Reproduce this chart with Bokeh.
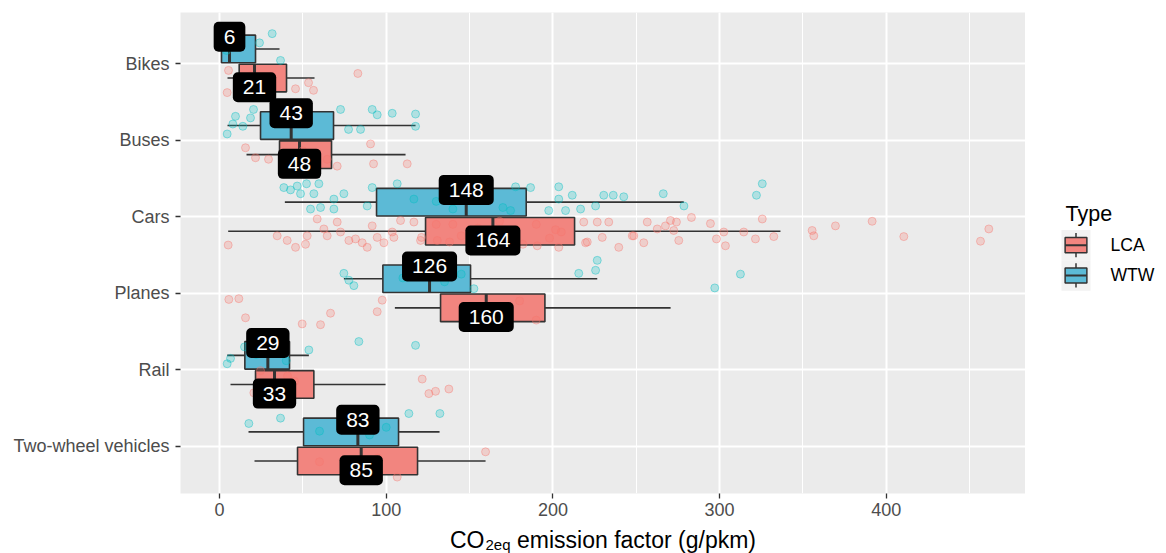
from bokeh.plotting import figure
from bokeh.models import Range1d, FixedTicker, SingleIntervalTicker, ColumnDataSource
from bokeh.layouts import row, column
from bokeh.embed import file_html
from bokeh.resources import INLINE
from bokeh.core.properties import value

# ---------------- data ----------------
categories = ["Bikes", "Buses", "Cars", "Planes", "Rail", "Two-wheel vehicles"]
types = ["LCA", "WTW"]

# box statistics (g/pkm): lower whisker, Q1, median, Q3, upper whisker
lca_low = [4.8, 16.2, 5.2, 105.2, 6.6, 21.0]
lca_q1 = [11.8, 36.0, 123.6, 132.6, 21.6, 46.8]
lca_med = [21, 48, 164, 160, 33, 85]
lca_q3 = [40.2, 67.2, 213.0, 195.2, 56.6, 118.8]
lca_high = [57.0, 111.6, 336.5, 270.6, 99.6, 159.6]

wtw_low = [1.2, 4.8, 39.2, 74.6, 4.6, 17.4]
wtw_q1 = [1.2, 24.6, 94.2, 98.0, 15.2, 50.4]
wtw_med = [6, 43, 148, 126, 29, 83]
wtw_q3 = [21.6, 68.4, 184.0, 150.6, 42.0, 107.4]
wtw_high = [36.0, 117.6, 278.5, 226.6, 53.6, 132.0]

lca_pt_cat = (["Bikes"] * 8 + ["Buses"] * 10 + ["Cars"] * 72 + ["Planes"] * 12
              + ["Rail"] * 11 + ["Two-wheel vehicles"] * 13)
lca_pt_val = [
    5.4, 4.6, 83, 45.6, 53.4, 56.4, 18.6, 27.6,
    15.6, 21.6, 29.4, 90.6, 92.4, 70.6, 112.6, 64.6, 50, 40,
    5.2, 34.6, 40.6, 45.6, 52.6, 51.6, 58.6, 62.6, 64.6, 70.6, 72.6, 77.6, 81.6, 85.6,
    88.6, 91.6, 94.6, 98.6, 103.6, 108.6, 116.6, 120.6, 130, 145, 155, 175, 190, 205,
    190.6, 203.5, 218.5, 219.6, 226.6, 229.6, 233.5, 239.5, 248.5, 254.5, 256.6, 262.6,
    267.5, 272.5, 274.1, 275.5, 283.1, 294.5, 298.1, 302.5, 303.5, 314.5, 321.5, 325.6,
    332.5, 355.5, 356.5, 369.5, 391.5, 410.5, 456.5, 461.5, 138, 168, 182, 198,
    104.6, 121.2, 130.6, 201.6, 220.6, 247.6, 270.5, 140, 150, 165, 180, 190,
    5.6, 11.6, 15.6, 97.6, 94.6, 66.6, 60.6, 49.6, 25, 35, 45,
    24.6, 20.6, 40.8, 40.2, 121.6, 125.6, 129.6, 137.6, 159.6, 106.6, 60, 80, 95,
]
lca_pt_jit = [
    -0.09, -0.38, -0.13, -0.33, -0.25, -0.35, -0.16, -0.25,
    -0.10, -0.23, -0.25, -0.05, -0.31, -0.34, -0.31, -0.25, -0.14, -0.21,
    -0.37, -0.25, -0.31, -0.40, -0.25, -0.36, -0.03, -0.16, -0.25, -0.07, -0.20, -0.31, -0.29, -0.34,
    -0.40, -0.12, -0.27, -0.34, -0.20, -0.05, -0.07, -0.31, -0.10, -0.25, -0.15, -0.30, -0.10, -0.20,
    -0.38, -0.40, -0.07, -0.34, -0.07, -0.27, -0.07, -0.40, -0.25, -0.34, -0.07, -0.16,
    -0.12, -0.18, -0.07, -0.31, -0.01, -0.09, -0.29, -0.20, -0.38, -0.20, -0.29, -0.03,
    -0.26, -0.18, -0.25, -0.12, -0.06, -0.26, -0.32, -0.16, -0.33, -0.06, -0.36, -0.28,
    -0.27, -0.27, -0.31, -0.17, -0.33, -0.25, -0.05, -0.10, -0.30, -0.20, -0.10, -0.35,
    -0.08, -0.07, -0.32, -0.09, -0.24, -0.26, -0.41, -0.40, -0.20, -0.30, -0.15,
    -0.01, -0.30, -0.08, -0.38, -0.12, -0.31, -0.28, -0.25, -0.07, -0.40, -0.20, -0.30, -0.15,
]

wtw_pt_cat = (["Bikes"] * 5 + ["Buses"] * 14 + ["Cars"] * 37 + ["Planes"] * 13
              + ["Rail"] * 9 + ["Two-wheel vehicles"] * 8)
wtw_pt_val = [
    31.6, 24, 36.6, 4.2, 12.6,
    4.6, 9.6, 18.6, 20.4, 72.6, 77.4, 84.6, 91.6, 94.6, 103.6, 117.6, 117.6, 14, 8,
    38.6, 42.6, 46.6, 52.2, 56.6, 59.6, 48.6, 54.6, 60.6, 68.6, 68.6, 74.6, 88.6, 91.6,
    106.6, 116.6, 177.6, 186.6, 203.5, 203.5, 197.5, 207.6, 211.6, 216.6, 225.6, 230.5,
    236.2, 242.5, 266.2, 278.6, 322.1, 325.6, 130, 160, 140, 170, 174.6,
    74.6, 77.6, 80.6, 152.6, 215.5, 225.6, 226.6, 312.5, 297.1, 110, 120, 135, 145,
    4.6, 6.6, 53.6, 83.6, 117.6, 15, 22, 35, 40,
    17.6, 36.6, 113.6, 132.2, 60, 75, 90, 100,
]
wtw_pt_jit = [
    0.39, 0.27, 0.04, 0.17, 0.23,
    0.08, 0.31, 0.29, 0.40, 0.40, 0.14, 0.14, 0.40, 0.33, 0.35, 0.34, 0.18, 0.18, 0.21,
    0.38, 0.35, 0.40, 0.43, 0.30, 0.43, 0.30, 0.10, 0.12, 0.23, 0.10, 0.30, 0.14, 0.38,
    0.43, 0.23, 0.39, 0.38, 0.39, 0.23, 0.08, 0.08, 0.28, 0.10, 0.14, 0.28,
    0.28, 0.26, 0.30, 0.14, 0.28, 0.43, 0.20, 0.30, 0.10, 0.12, 0.08,
    0.26, 0.17, 0.10, 0.06, 0.26, 0.30, 0.43, 0.25, 0.07, 0.20, 0.30, 0.15, 0.25,
    0.08, 0.15, 0.26, 0.37, 0.32, 0.30, 0.20, 0.25, 0.12,
    0.30, 0.37, 0.43, 0.43, 0.20, 0.30, 0.15, 0.25,
]

x_title_main = "CO"
x_title_sub = "2eq"
x_title_rest = "emission factor (g/pkm)"
legend_title = "Type"

# ---------------- styling ----------------
FONT = "Liberation Sans"
box_fill = {"LCA": "#F2857F", "WTW": "#5CBAD6"}
point_col = {"LCA": "#F8766D", "WTW": "#00BFC4"}
dodge = {"LCA": -0.19, "WTW": 0.19}
label_dy = {"LCA": -0.31, "WTW": 0.35}
half_h = 0.18
dark = "#333333"

stats = {
    "LCA": (lca_low, lca_q1, lca_med, lca_q3, lca_high),
    "WTW": (wtw_low, wtw_q1, wtw_med, wtw_q3, wtw_high),
}
points = {
    "LCA": (lca_pt_cat, lca_pt_val, lca_pt_jit),
    "WTW": (wtw_pt_cat, wtw_pt_val, wtw_pt_jit),
}
ncat = len(categories)
pos = {c: ncat - i for i, c in enumerate(categories)}

x_start, x_end = -23.4, 483.5
y_start, y_end = 0.386, 6.666
FRAME_L, FRAME_W = 180, 845
MAIN_H, TITLE_H = 524, 29
TOTAL_W = 1166

p = figure(width=FRAME_L + FRAME_W, height=MAIN_H, x_range=Range1d(x_start, x_end),
           y_range=Range1d(y_start, y_end), output_backend="svg",
           toolbar_location=None, title=None,
           min_border_left=FRAME_L, min_border_right=0, min_border_top=12, min_border_bottom=31)
p.background_fill_color = "#EBEBEB"
p.border_fill_color = "white"
p.outline_line_color = None

xt = SingleIntervalTicker(interval=100, num_minor_ticks=2)
yt = FixedTicker(ticks=list(range(1, ncat + 1)), minor_ticks=[])
p.xaxis.ticker = xt
p.xgrid.ticker = xt
p.yaxis.ticker = yt
p.ygrid.ticker = yt
p.yaxis.major_label_overrides = {pos[c]: c for c in categories}

for ax in (p.xaxis, p.yaxis):
    ax.axis_line_color = None
    ax.major_tick_line_color = dark
    ax.major_tick_line_width = 1.3
    ax.major_tick_out = 5
    ax.major_tick_in = 0
    ax.minor_tick_line_color = None
    ax.major_label_text_font = FONT
    ax.major_label_text_font_size = "18px"
    ax.major_label_text_color = "#4D4D4D"
p.yaxis.major_label_standoff = 6
p.xaxis.major_label_standoff = 4

p.xgrid.grid_line_color = "white"
p.xgrid.grid_line_width = 2
p.xgrid.minor_grid_line_color = "white"
p.xgrid.minor_grid_line_width = 1
p.ygrid.grid_line_color = "white"
p.ygrid.grid_line_width = 2

for t in types:
    lo, q1, med, q3, hi = stats[t]
    yc = [pos[c] + dodge[t] for c in categories]
    src = ColumnDataSource(dict(lo=lo, q1=q1, med=med, q3=q3, hi=hi, y=yc,
                                yb=[v - half_h for v in yc], yt=[v + half_h for v in yc]))
    p.segment(x0="lo", x1="q1", y0="y", y1="y", source=src, line_color=dark, line_width=1.6)
    p.segment(x0="q3", x1="hi", y0="y", y1="y", source=src, line_color=dark, line_width=1.6)
    p.quad(left="q1", right="q3", bottom="yb", top="yt", source=src,
           fill_color=box_fill[t], line_color=dark, line_width=1.6)
    p.segment(x0="med", x1="med", y0="yb", y1="yt", source=src, line_color=dark, line_width=3)

for t in types:
    cats, vals, jit = points[t]
    ys = [pos[c] + j for c, j in zip(cats, jit)]
    p.scatter(x=vals, y=ys, size=8, fill_color=point_col[t], fill_alpha=0.25,
              line_color=point_col[t], line_alpha=0.4, line_width=1)

for t in types:
    lo, q1, med, q3, hi = stats[t]
    src = ColumnDataSource(dict(x=med, y=[pos[c] + label_dy[t] for c in categories],
                                txt=[str(m) for m in med]))
    p.text(x="x", y="y", text="txt", source=src, text_color="white",
           text_font=value(FONT), text_font_size="21px", text_align="center",
           text_baseline="middle", background_fill_color="black",
           border_radius=5, padding=dict(x=10, y=8))

# ---------------- legend panel ----------------
LEG_W = TOTAL_W - FRAME_L - FRAME_W
leg = figure(width=LEG_W, height=MAIN_H, x_range=Range1d(0, LEG_W), y_range=Range1d(MAIN_H, 0),
             output_backend="svg", toolbar_location=None, title=None,
             x_axis_location=None, y_axis_location=None, min_border=0)
leg.grid.visible = False
leg.outline_line_color = None
leg.background_fill_color = "white"
leg.border_fill_color = "white"

leg.text(x=[40], y=[220], text=[legend_title], text_font=value(FONT), text_font_size="21.5px",
         text_color="black", text_align="left", text_baseline="alphabetic")
key_l, key_w, key_h, key_top = 36, 29, 33, 237
for i, t in enumerate(types):
    top = key_top + key_h * i
    cx = key_l + key_w / 2
    leg.quad(left=[key_l], right=[key_l + key_w], top=[top], bottom=[top + key_h],
             fill_color="#F2F2F2", line_color=None)
    leg.segment(x0=[cx], x1=[cx], y0=[top + 0.1 * key_h], y1=[top + 0.9 * key_h],
                line_color=dark, line_width=1.5)
    leg.quad(left=[key_l + 0.125 * key_w], right=[key_l + 0.875 * key_w],
             top=[top + 0.25 * key_h], bottom=[top + 0.75 * key_h],
             fill_color=box_fill[t], line_color=dark, line_width=1.5)
    leg.segment(x0=[key_l + 0.125 * key_w], x1=[key_l + 0.875 * key_w],
                y0=[top + 0.5 * key_h], y1=[top + 0.5 * key_h], line_color=dark, line_width=2)
    leg.text(x=[85], y=[top + key_h / 2], text=[t], text_font=value(FONT),
             text_font_size="17.6px", text_color="black", text_align="left",
             text_baseline="middle")

# ---------------- x-axis title strip (with subscript) ----------------
tfig = figure(width=TOTAL_W, height=TITLE_H, x_range=Range1d(0, TOTAL_W),
              y_range=Range1d(TITLE_H, 0), output_backend="svg", toolbar_location=None,
              title=None, x_axis_location=None, y_axis_location=None, min_border=0)
tfig.grid.visible = False
tfig.outline_line_color = None
tfig.background_fill_color = "white"
tfig.border_fill_color = "white"
cx_title = FRAME_L + FRAME_W / 2
tfig.text(x=[cx_title - 153], y=[15], text=[x_title_main], text_font=value(FONT),
          text_font_size="23px", text_color="black", text_align="left", text_baseline="alphabetic")
tfig.text(x=[cx_title - 117.5], y=[20], text=[x_title_sub], text_font=value(FONT),
          text_font_size="15px", text_color="black", text_align="left", text_baseline="alphabetic")
tfig.text(x=[cx_title - 86], y=[15], text=[x_title_rest], text_font=value(FONT),
          text_font_size="23px", text_color="black", text_align="left", text_baseline="alphabetic")

layout = column(row(p, leg), tfig)
open("out.html", "w").write(file_html(layout, INLINE))
